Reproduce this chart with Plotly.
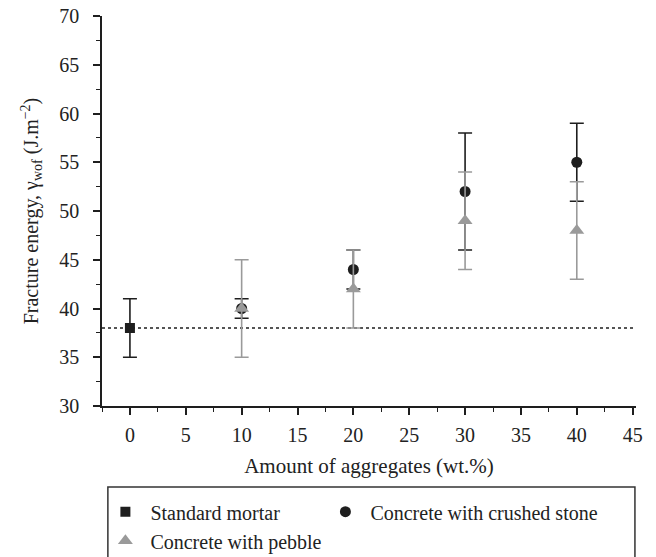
import plotly.graph_objects as go

# Data
mortar_x = [0]
mortar_y = [38]
mortar_err = [3]

crushed_x = [10, 20, 30, 40]
crushed_y = [40, 44, 52, 55]
crushed_err = [1, 2, 6, 4]

pebble_x = [10, 20, 30, 40]
pebble_y = [40, 42, 49, 48]
pebble_err = [5, 4, 5, 5]

baseline = 38

FONT = "Liberation Serif, Times New Roman, serif"
BLACK = "#1e1e1e"
GREY = "#9a9a9a"

fig = go.Figure()

fig.add_trace(go.Scatter(
    x=mortar_x, y=mortar_y, mode="markers", name="Standard mortar", legend="legend",
    marker=dict(symbol="square", size=10, color=BLACK),
    error_y=dict(type="data", array=mortar_err, color=BLACK, thickness=1.6, width=7),
))
fig.add_trace(go.Scatter(
    x=crushed_x, y=crushed_y, mode="markers", name="Concrete with crushed stone", legend="legend2",
    marker=dict(symbol="circle", size=11, color=BLACK),
    error_y=dict(type="data", array=crushed_err, color=BLACK, thickness=1.6, width=7),
))
fig.add_trace(go.Scatter(
    x=pebble_x, y=pebble_y, mode="markers", name="Concrete with pebble", legend="legend",
    marker=dict(symbol="triangle-up", size=13, color=GREY),
    error_y=dict(type="data", array=pebble_err, color=GREY, thickness=1.6, width=7),
))

# Reference dashed line at the standard mortar level
fig.add_shape(type="line", xref="x domain", yref="y", x0=0, x1=1, y0=baseline, y1=baseline,
              line=dict(color=BLACK, width=1.3, dash="dot"), layer="below")

# Legend box
fig.add_shape(type="rect", xref="paper", yref="paper", x0=0.011, x1=0.998, y0=-0.208, y1=-0.45,
              line=dict(color="#333333", width=1.5))

legend_common = dict(
    orientation="v", yanchor="top", xanchor="left",
    font=dict(family=FONT, size=20, color="#222222"),
    bgcolor="rgba(0,0,0,0)", borderwidth=0, itemwidth=40, tracegroupgap=0,
)

fig.update_layout(
    width=648, height=549,
    margin=dict(l=94, r=20, t=8, b=151, autoexpand=False),
    paper_bgcolor="white", plot_bgcolor="white",
    font=dict(family=FONT, size=20, color="#222222"),
    showlegend=True,
    legend=dict(x=-0.003, y=-0.221, **legend_common),
    legend2=dict(x=0.409, y=-0.221, **legend_common),
    xaxis=dict(
        range=[-2.5, 45.3], tickmode="linear", tick0=0, dtick=5,
        showgrid=False, zeroline=False, showline=True, linecolor=BLACK, linewidth=1.5,
        ticks="outside", ticklen=7, tickwidth=1.5, tickcolor=BLACK,
        minor=dict(dtick=2.5, tick0=0, ticks="outside", ticklen=4, tickwidth=1.2, tickcolor=BLACK),
        tickfont=dict(family=FONT, size=20), ticklabelstandoff=3, ticklabeloverflow="allow",
        title=dict(text="Amount of aggregates (wt.%)", font=dict(family=FONT, size=21), standoff=14),
    ),
    yaxis=dict(
        range=[30, 70], tickmode="linear", tick0=30, dtick=5,
        showgrid=False, zeroline=False, showline=True, linecolor=BLACK, linewidth=1.5,
        ticks="outside", ticklen=7, tickwidth=1.5, tickcolor=BLACK,
        minor=dict(dtick=2.5, tick0=30, ticks="outside", ticklen=4, tickwidth=1.2, tickcolor=BLACK),
        tickfont=dict(family=FONT, size=20), ticklabelstandoff=10, ticklabeloverflow="allow",
        title=dict(text="Fracture energy, γ<sub>wof</sub> (J.m<sup>−2</sup>)",
                   font=dict(family=FONT, size=20), standoff=15),
    ),
)

fig.write_html("out.html")
